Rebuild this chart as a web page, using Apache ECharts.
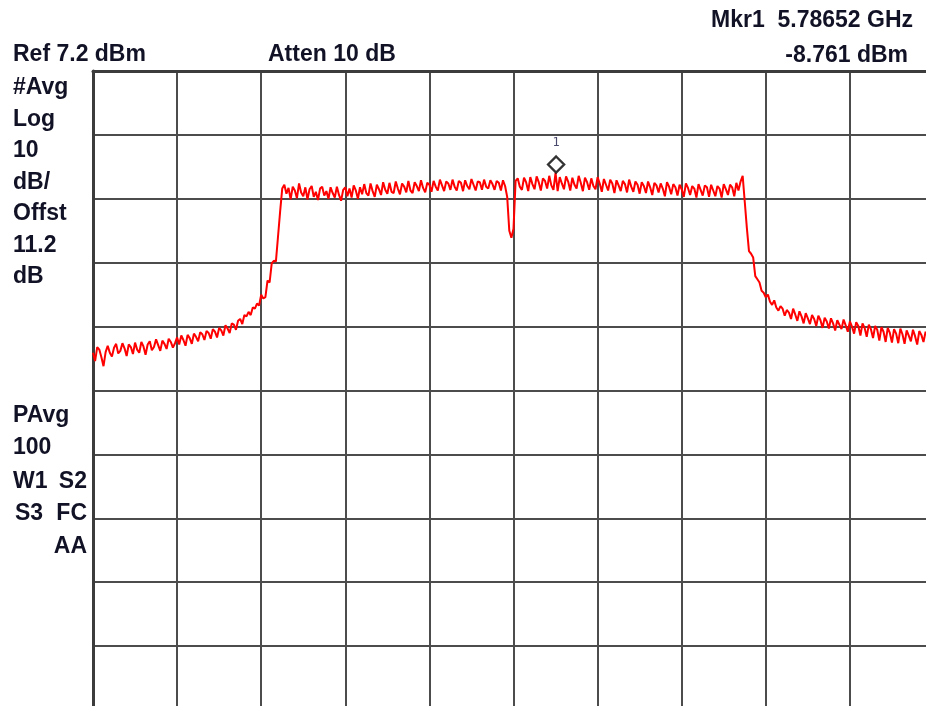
<!DOCTYPE html>
<html>
<head>
<meta charset="utf-8">
<script src="https://cdn.jsdelivr.net/npm/echarts@6/dist/echarts.min.js"></script>
<style>
  html, body { margin: 0; padding: 0; background: #ffffff; }
  #chart { width: 926px; height: 706px; }
</style>
</head>
<body>
<div id="chart"></div>
<script>
// ---- Data ----
// Frequency axis: offset from centre 5.785 GHz, span 30 MHz, 401 trace points
var centerFreqGHz = 5.785;
var freqStartMHz = -15;
var freqStepMHz = 0.075;
// Y axis: Ref 7.2 dBm, 10 dB/div, 10 divisions
var refLevelDbm = 7.2;
var dbPerDiv = 10;
var divisions = 10;
var xTickStepMHz = 3;

// Trace levels in dBm, one per trace point
var levelsDbm = [
  // 0-59 lower skirt
  -36.9, -38.2, -36.0, -36.4, -37.6, -39.0, -36.8, -35.8, -36.9, -37.5,
  -36.1, -35.5, -37.0, -36.6, -35.4, -36.2, -37.4, -35.6, -36.0, -37.1,
  -35.3, -36.4, -36.9, -35.2, -35.9, -37.2, -35.6, -35.1, -36.5, -36.0,
  -34.8, -35.7, -36.6, -35.0, -35.5, -36.3, -34.7, -35.2, -36.1, -35.4,
  -34.5, -35.6, -34.2, -34.9, -35.8, -34.1, -34.6, -35.5, -33.9, -34.4,
  -35.1, -33.7, -34.0, -34.9, -33.5, -33.8, -34.7, -33.2, -33.6, -34.5,
  // 60-79
  -33.0, -33.4, -34.2, -32.6, -33.1,
  -33.8, -32.3, -32.5, -33.3, -31.9,
  -31.6, -32.4, -31.0, -31.2, -30.5,
  -31.0, -29.8, -30.0, -29.2, -29.5,
  // 80-90 rising edge
  -27.8, -28.4, -28.2, -25.6, -25.9, -22.9, -22.5, -22.6, -18.7, -14.8, -11.2,
  // 91-190 channel, left half
  -10.6, -12.0, -11.1, -12.9, -10.9, -11.5, -12.7, -10.4, -11.8, -12.4,
  -11.0, -12.9, -11.3, -10.8, -12.5, -11.7, -13.0, -11.2, -10.9, -12.3,
  -11.6, -12.8, -11.0, -11.9, -12.6, -10.9, -12.2, -13.1, -11.4, -11.0,
  -12.4, -11.2, -12.6, -10.7, -11.5, -12.8, -11.0, -12.1, -10.5, -11.9,
  -12.3, -10.4, -11.6, -12.5, -10.6, -11.3, -12.2, -10.2, -11.4, -12.0,
  -10.3, -11.7, -11.9, -10.1, -11.2, -12.1, -10.4, -10.9, -11.8, -10.0,
  -11.5, -11.9, -10.2, -10.8, -11.6, -9.9, -11.1, -11.8, -10.3, -10.6,
  -11.7, -10.0, -10.9, -11.5, -9.8, -10.7, -11.6, -10.1, -10.4, -11.4,
  -9.8, -10.9, -11.5, -10.0, -10.3, -11.6, -9.9, -10.8, -11.3, -9.7,
  -10.6, -11.5, -10.1, -10.2, -11.4, -9.8, -10.9, -11.2, -9.9, -10.5,
  // 191-196
  -11.4, -10.0, -10.3, -11.5, -9.9, -10.8,
  // 197-201 DC notch
  -12.5, -17.8, -18.9, -17.5, -10.0,
  // 202-219
  -9.6, -10.9, -11.4, -9.5, -10.2, -11.6, -9.4, -10.5, -11.3,
  -9.3, -10.2, -11.5, -9.6, -10.0, -11.2, -9.2, -10.7, -11.4,
  // 220 marker peak
  -8.761,
  // 221-300 channel, right half
  -11.6, -9.4, -10.4, -11.3, -9.3, -10.1, -11.5, -9.5, -10.6, -11.2,
  -9.2, -10.3, -11.6, -9.5, -10.2, -11.4, -9.6, -10.8, -11.3, -9.4,
  -10.4, -11.7, -9.7, -10.6, -11.5, -9.8, -10.4, -11.9, -9.9, -10.7,
  -11.6, -10.0, -10.5, -11.8, -9.8, -10.9, -11.7, -10.1, -10.6, -12.0,
  -10.2, -10.8, -11.9, -10.1, -11.0, -12.2, -10.3, -10.7, -11.8, -10.4,
  -11.2, -12.4, -10.2, -10.9, -12.1, -10.5, -11.0, -12.3, -10.6, -11.3,
  -12.5, -10.4, -11.1, -12.2, -10.8, -11.2, -12.6, -10.5, -11.4, -12.3,
  -10.7, -11.0, -12.5, -10.6, -11.5, -12.4, -10.8, -11.2, -12.6, -10.5,
  // 301-309
  -11.3, -12.2, -10.6, -11.0, -12.4, -10.3, -11.5, -10.1, -9.2,
  // 310-330 falling edge
  -13.3, -17.4, -21.0, -21.4, -22.0, -24.9, -25.4, -25.9, -27.2, -27.5,
  -28.2, -27.8, -28.9, -29.4, -28.7, -29.8, -30.3, -29.6, -30.0, -31.1, -30.2,
  // 331-400 upper skirt
  -30.6, -31.6, -30.0, -30.9, -31.9, -30.4, -31.2, -32.3, -30.7, -31.5,
  -32.4, -31.0, -31.6, -32.7, -31.1, -31.8, -33.0, -31.4, -32.0, -33.1,
  -31.5, -32.3, -33.4, -31.8, -32.5, -33.2, -31.7, -32.6, -33.6, -32.0,
  -32.8, -33.9, -32.1, -32.7, -34.2, -32.3, -33.0, -34.4, -32.5, -33.2,
  -34.6, -32.7, -33.3, -35.0, -32.9, -33.6, -35.2, -33.0, -33.8, -35.3,
  -33.2, -33.9, -35.4, -33.1, -34.0, -35.5, -33.4, -34.2, -35.1, -33.3,
  -34.3, -35.6, -33.5, -34.1, -35.2, -33.6, -34.4, -35.3, -33.7, -34.2
];

// Marker 1
var markerFreqGHz = 5.78652;
var markerLevelDbm = -8.761;

// Annotation texts
var leftUpperTexts = ['#Avg', 'Log', '10', 'dB/', 'Offst', '11.2', 'dB'];
var headerRef = 'Ref 7.2 dBm';
var headerAtten = 'Atten 10 dB';
var headerMkr = 'Mkr1  5.78652 GHz';
var headerMkrLevel = '-8.761 dBm';

// ---- Build ----
var traceData = levelsDbm.map(function (v, i) {
  return [freqStartMHz + i * freqStepMHz, v];
});
var markerOffsetMHz = (markerFreqGHz - centerFreqGHz) * 1000;

var txtColor = '#121226';
var font = 'bold 23px "Liberation Sans", Arial, sans-serif';
function txt(s, x, y, align) {
  return {
    type: 'text', x: x, y: y, silent: true,
    style: { text: s, x: 0, y: 0, font: font, fill: txtColor,
             align: align || 'left', verticalAlign: 'middle' }
  };
}
var graphics = [
  txt(headerRef, 13, 55),
  txt(headerAtten, 268, 55),
  txt(headerMkr, 913, 21, 'right'),
  txt(headerMkrLevel, 908, 56, 'right')
];
var upperY = [87, 118.5, 150, 181.5, 213, 244.5, 276];
leftUpperTexts.forEach(function (s, k) { graphics.push(txt(s, 13, upperY[k] + 1)); });
graphics.push(txt('PAvg', 13, 416));
graphics.push(txt('100', 13, 448));
graphics.push(txt('W1', 13, 482));
graphics.push(txt('S2', 87, 482, 'right'));
graphics.push(txt('S3', 15, 514));
graphics.push(txt('FC', 87, 514, 'right'));
graphics.push(txt('AA', 87, 547, 'right'));

var gridColor = '#4c4c4c';
var chart = echarts.init(document.getElementById('chart'), null, { renderer: 'canvas' });
chart.setOption({
  animation: false,
  backgroundColor: '#ffffff',
  grid: { left: 93, top: 71, width: 841, height: 639, containLabel: false,
          outerBoundsMode: 'none' },
  xAxis: {
    type: 'value', position: 'top',
    min: freqStartMHz, max: -freqStartMHz, interval: xTickStepMHz,
    axisLine: { show: true, onZero: false, lineStyle: { color: '#3c3c3c', width: 3 } },
    axisTick: { show: false }, axisLabel: { show: false },
    splitLine: { show: true, lineStyle: { color: gridColor, width: 2 } }
  },
  yAxis: {
    type: 'value',
    min: refLevelDbm - dbPerDiv * divisions, max: refLevelDbm, interval: dbPerDiv,
    axisLine: { show: true, onZero: false, lineStyle: { color: '#3c3c3c', width: 3 } },
    axisTick: { show: false }, axisLabel: { show: false },
    splitLine: { show: true, lineStyle: { color: gridColor, width: 2 } }
  },
  series: [
    {
      type: 'line', data: traceData,
      showSymbol: false, symbol: 'none',
      lineStyle: { color: '#ff0000', width: 2 },
      z: 3
    },
    {
      type: 'scatter',
      data: [[markerOffsetMHz, markerLevelDbm]],
      symbol: 'diamond', symbolSize: [16, 16], symbolOffset: [0, -8.5],
      itemStyle: { color: '#ffffff', borderColor: '#000000', borderWidth: 2.4 },
      label: {
        show: true, formatter: '1', position: 'top', distance: 6,
        fontFamily: '"DejaVu Sans Mono", monospace', fontSize: 12,
        color: '#1c1c48'
      },
      z: 4
    }
  ],
  graphic: graphics
});
</script>
</body>
</html>
